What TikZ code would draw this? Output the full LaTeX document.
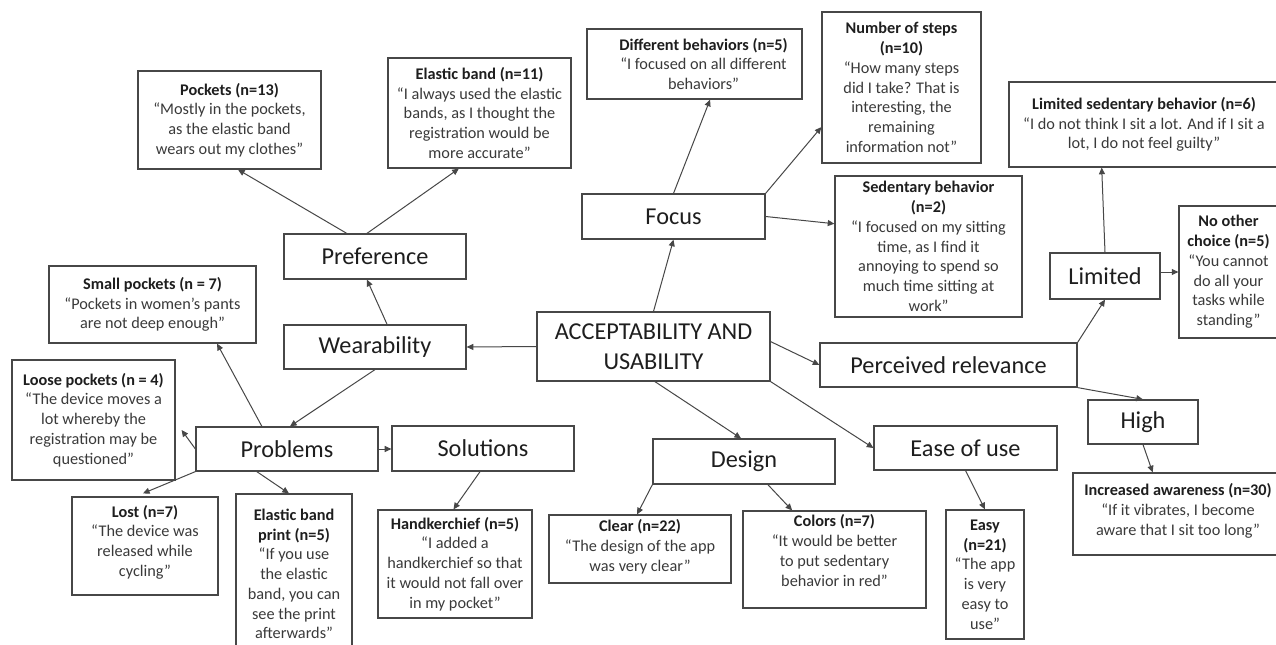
\documentclass[tikz,border=0pt]{standalone}
\usepackage{fontspec}
\setmainfont{Carlito}
\usetikzlibrary{arrows.meta,calc,fit}
\definecolor{bord}{HTML}{474747}
\definecolor{qcol}{HTML}{3A3A3A}
\definecolor{tcol}{HTML}{1E1E1E}
\newcommand\tb[1]{{\bfseries\color{tcol}#1}}
\begin{document}
\begin{tikzpicture}[x=0.75pt,y=-0.75pt,
 box/.style={draw=bord,line width=0.9pt,inner sep=0pt},
 qt/.style={align=center,font=\fontsize{12.2}{14.8}\selectfont,text=qcol,inner sep=0pt},
 big/.style={align=center,font=\fontsize{18.2}{22.5}\selectfont,text=tcol,inner sep=0pt},
 arr/.style={draw=bord,line width=0.75pt,-{Triangle[length=5pt,width=4.5pt]}}]
\fill[white] (0,0) rectangle (1276,645);
\useasboundingbox (0,0) rectangle (1276,645);

% main / category boxes
\node[box,fit={(537,312)(770,381)}] (central) {};
\node[big] at (central) {ACCEPTABILITY AND\\USABILITY};
\node[box,fit={(284,234)(466,279)}] (pref) {};
\node[big] at (pref) {Preference};
\node[box,fit={(284,325)(466,369)}] (wear) {};
\node[big] at (wear) {Wearability};
\node[box,fit={(196,427)(378,471)}] (problems) {};
\node[big] at (problems) {Problems};
\node[box,fit={(392,426)(574,471)}] (solutions) {};
\node[big] at (solutions) {Solutions};
\node[box,fit={(653,439)(835,484)}] (design) {};
\node[big] at (design) {Design};
\node[box,fit={(874,426)(1057,470)}] (ease) {};
\node[big] at (ease) {Ease of use};
\node[box,fit={(820,343)(1077,387)}] (perc) {};
\node[big] at (perc) {Perceived relevance};
\node[box,fit={(1088,400)(1198,444)}] (high) {};
\node[big] at (high) {High};
\node[box,fit={(1050,253)(1160,299)}] (limited) {};
\node[big] at (limited) {Limited};
\node[box,fit={(582,194)(765,239)}] (focus) {};
\node[big] at (focus) {Focus};

% quote boxes
\node[box,fit={(138,71)(321,169)}] (pockets) {};
\node[qt] at (pockets) {\tb{Pockets (n=13)}\\“Mostly in the pockets,\\as the elastic band\\wears out my clothes”};
\node[box,fit={(388,58)(571,168)}] (elastic) {};
\node[qt] at (elastic) {\tb{Elastic band (n=11)}\\“I always used the elastic\\bands, as I thought the\\registration would be\\more accurate”};
\node[box,fit={(49,266)(256,343)}] (small) {};
\node[qt] at (small) {\tb{Small pockets (n = 7)}\\“Pockets in women’s pants\\are not deep enough”};
\node[box,fit={(12,360)(175,480)}] (loose) {};
\node[qt] at (loose) {\tb{Loose pockets (n = 4)}\\“The device moves a\\lot whereby the\\registration may be\\questioned”};
\node[box,fit={(72,497)(218,595)}] (lost) {};
\node[qt] at ($(lost)+(0,-4)$) {\tb{Lost (n=7)}\\“The device was\\released while\\cycling”};
\node[box,fit={(236,494)(352,650)}] (eprint) {};
\node[qt] at ($(eprint)+(0,2)$) {\tb{Elastic band}\\\tb{print (n=5)}\\“If you use\\the elastic\\band, you can\\see the print\\afterwards”};
\node[box,fit={(378,510)(532,618)}] (hand) {};
\node[qt] at (hand) {\tb{Handkerchief (n=5)}\\“I added a\\handkerchief so that\\it would not fall over\\in my pocket”};
\node[box,fit={(549,515)(731,583)}] (clear) {};
\node[qt] at ($(clear)+(0,-2)$) {\tb{Clear (n=22)}\\“The design of the app\\was very clear”};
\node[box,fit={(743,511)(926,608)}] (colors) {};
\node[qt] at ($(colors)+(0,-9)$) {\tb{Colors (n=7)}\\“It would be better\\to put sedentary\\behavior in red”};
\node[box,fit={(946,510)(1024,639)}] (easy) {};
\node[qt] at (easy) {\tb{Easy}\\\tb{(n=21)}\\“The app\\is very\\easy to\\use”};
\node[box,fit={(1073,473)(1283,555)}] (aware) {};
\node[qt] at ($(aware)+(0,-3)$) {\tb{Increased awareness (n=30)}\\“If it vibrates, I become\\aware that I sit too long”};
\node[box,fit={(1009,82)(1279,167)}] (limsed) {};
\node[qt] at (limsed) {\tb{Limited sedentary behavior (n=6)}\\“I do not think I sit a lot. And if I sit a\\lot, I do not feel guilty”};
\node[box,fit={(1179,206)(1278,338)}] (noother) {};
\node[qt] at (noother) {\tb{No other}\\\tb{choice (n=5)}\\“You cannot\\do all your\\tasks while\\standing”};
\node[box,fit={(835,176)(1022,317)}] (sed) {};
\node[qt] at (sed) {\tb{Sedentary behavior}\\\tb{(n=2)}\\“I focused on my sitting\\time, as I find it\\annoying to spend so\\much time sitting at\\work”};
\node[box,fit={(822,12)(981,163)}] (steps) {};
\node[qt] at (steps) {\tb{Number of steps}\\\tb{(n=10)}\\“How many steps\\did I take? That is\\interesting, the\\remaining\\information not”};
\node[box,fit={(587,29)(802,99)}] (diff) {};
\node[qt] at ($(diff)+(9,0)$) {\tb{Different behaviors (n=5)}\\“I focused on all different\\behaviors”};

% connectors
\draw[arr] (central.west) -- (wear.east);
\draw[arr] ($(wear.north west)!0.566!(wear.north east)$) -- ($(pref.south west)!0.456!(pref.south east)$);
\draw[arr] ($(pref.north west)!0.346!(pref.north east)$) -- ($(pockets.south west)!0.546!(pockets.south east)$);
\draw[arr] ($(pref.north west)!0.456!(pref.north east)$) -- ($(elastic.south west)!0.388!(elastic.south east)$);
\draw[arr] (wear.south) -- ($(problems.north west)!0.516!(problems.north east)$);
\draw[arr] ($(problems.north west)!0.363!(problems.north east)$) -- ($(small.south west)!0.81!(small.south east)$);
\draw[arr] (problems.west) -- ($(loose.east)+(6,10)$);
\draw[arr] (problems.south west) -- ($(lost.north west)!0.486!(lost.north east)+(0,-3)$);
\draw[arr] ($(problems.south west)!0.335!(problems.south east)$) -- ($(eprint.north west)!0.457!(eprint.north east)$);
\draw[arr] (problems.east) -- (solutions.west |- problems.east);
\draw[arr] ($(solutions.south west)!0.484!(solutions.south east)$) -- ($(hand.north west)!0.49!(hand.north east)$);
\draw[arr] (central.north) -- (focus.south);
\draw[arr] (focus.north) -- ($(diff.south west)!0.572!(diff.south east)$);
\draw[arr] (focus.north east) -- ($(steps.north west)!0.76!(steps.south west)$);
\draw[arr] (focus.east) -- ($(sed.north west)!0.34!(sed.south west)$);
\draw[arr] ($(central.north east)!0.43!(central.south east)$) -- (perc.west);
\draw[arr] (central.south east) -- (ease.west);
\draw[arr] ($(central.south west)!0.506!(central.south east)$) -- ($(design.north west)!0.484!(design.north east)$);
\draw[arr] (design.south west) -- ($(clear.north west)!0.484!(clear.north east)$);
\draw[arr] ($(design.south west)!0.63!(design.south east)$) -- ($(colors.north west)!0.27!(colors.north east)$);
\draw[arr] (ease.south) -- (easy.north);
\draw[arr] (perc.north east) -- (limited.south);
\draw[arr] (perc.south east) -- (high.north);
\draw[arr] (limited.north) -- ($(limsed.south west)!0.344!(limsed.south east)$);
\draw[arr] (limited.east |- noother.west) -- (noother.west);
\draw[arr] (high.south) -- ($(aware.north west)!0.38!(aware.north east)$);
\end{tikzpicture}
\end{document}
